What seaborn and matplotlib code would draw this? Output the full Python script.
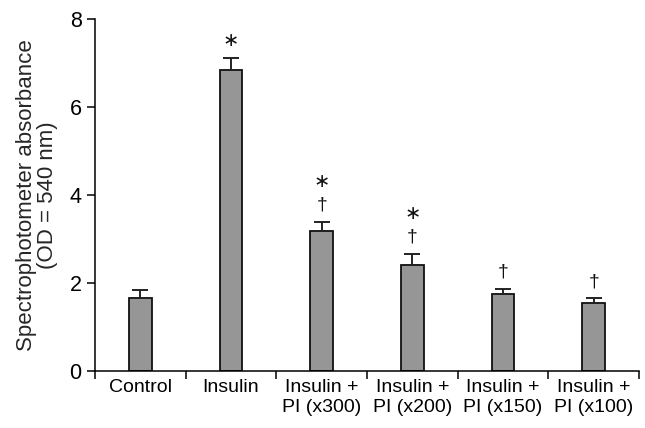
import matplotlib
matplotlib.use('Agg')
import matplotlib.pyplot as plt
import seaborn as sns
import pandas as pd
import numpy as np

groups = ['Control', 'Insulin', 'Insulin +\nPI (x300)', 'Insulin +\nPI (x200)',
          'Insulin +\nPI (x150)', 'Insulin +\nPI (x100)']
means = [1.66, 6.83, 3.18, 2.41, 1.76, 1.55]
sems = [0.18, 0.28, 0.21, 0.25, 0.10, 0.10]
marks = ['', '\u2217', '\u2217\n\u2020', '\u2217\n\u2020', '\u2020', '\u2020']

sns.set_style('ticks')
plt.rcParams['font.family'] = ['Liberation Sans', 'DejaVu Sans']

df = pd.DataFrame({'group': groups, 'mean': means, 'sem': sems})

fig = plt.figure(figsize=(6.45, 4.28), dpi=100)
ax = fig.add_axes([0.147, 0.133, 0.844, 0.823])
sns.barplot(data=df, x='group', y='mean', color='#969696', edgecolor='#111111',
            linewidth=1.3, width=0.25, saturation=1, ax=ax)
pos = np.arange(len(groups))
ax.errorbar(pos, df['mean'], yerr=[np.zeros(len(groups)), df['sem']], fmt='none',
            ecolor='#222222', elinewidth=1.4, capsize=5.5, capthick=1.4)

# significance marks above each error bar
for i, m in enumerate(marks):
    if m:
        ax.annotate(m, (pos[i], means[i] + sems[i]), xytext=(0, 6), textcoords='offset points',
                    ha='center', va='bottom', fontsize=14, linespacing=1.4,
                    color='#111111')

ax.set_xlim(-0.5, 5.5)
ax.set_ylim(0, 8)
ax.set_yticks([0, 2, 4, 6, 8])
ax.set_xticks(pos)
ax.set_xticks(np.arange(-0.5, 6, 1), minor=True)
ax.tick_params(axis='x', which='major', length=0, labelsize=14, pad=6, colors='black')
ax.tick_params(axis='x', which='minor', length=6, width=1.1, color='black')
ax.tick_params(axis='y', length=6, width=1.1, labelsize=15.5, colors='black')
ax.set_xlabel('')
ax.set_ylabel('Spectrophotometer absorbance\n(OD = 540 nm)', fontsize=16, labelpad=8,
              linespacing=1.05)
sns.despine(ax=ax)
for s in ['left', 'bottom']:
    ax.spines[s].set_linewidth(1.1)
    ax.spines[s].set_color('black')

fig.savefig('out.png', dpi=100)
